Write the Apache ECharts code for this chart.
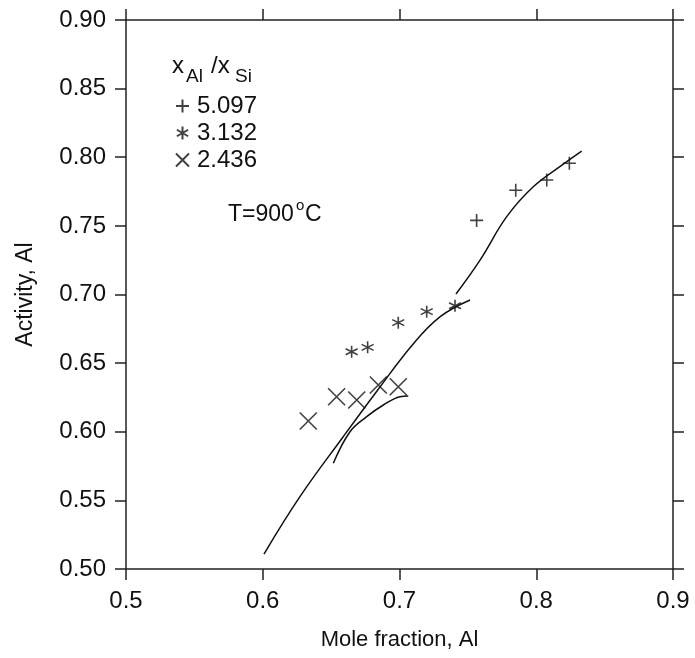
<!DOCTYPE html>
<html>
<head>
<meta charset="utf-8">
<script src="https://cdn.jsdelivr.net/npm/echarts@6/dist/echarts.min.js"></script>
<style>
  html, body { margin: 0; padding: 0; background: #fff; }
  #chart { width: 695px; height: 658px; }
</style>
</head>
<body>
<div id="chart"></div>
<script>
// measured points, x_Al/x_Si ratio groups
var ratioNames = ['5.097', '3.132', '2.436'];
var plusX = [0.7564, 0.785, 0.8077, 0.8242];
var plusY = [0.754, 0.776, 0.7834, 0.7956];
var starX = [0.665, 0.6767, 0.6991, 0.7199, 0.7406];
var starY = [0.6583, 0.6615, 0.6795, 0.6875, 0.6918];
var crossX = [0.6333, 0.654, 0.6687, 0.6845, 0.6991];
var crossY = [0.6078, 0.6255, 0.6231, 0.6341, 0.6328];

// calculated curves
var curveAX = [0.6009, 0.6272, 0.6587, 0.6845, 0.71, 0.73, 0.7516];
var curveAY = [0.5109, 0.5527, 0.5962, 0.631, 0.664, 0.684, 0.696];
var curveBX = [0.6516, 0.6638, 0.676, 0.6882, 0.7004, 0.7064];
var curveBY = [0.577, 0.600, 0.611, 0.6195, 0.6255, 0.626];
var curveCX = [0.7413, 0.7589, 0.7784, 0.7978, 0.8198, 0.8332];
var curveCY = [0.7004, 0.7251, 0.7567, 0.7785, 0.795, 0.8045];

function zip(xs, ys) {
  return xs.map(function (x, i) { return [x, ys[i]]; });
}

var ink = '#111';
var font = 'Liberation Sans, Arial, Helvetica, sans-serif';

var plusPath = 'path://M0,-10L0,10M-10,0L10,0';
var starPath = 'path://M0,-10L0,10M-8.66,-5L8.66,5M-8.66,5L8.66,-5';
var crossPath = 'path://M-10,-10L10,10M-10,10L10,-10';

function pointSeries(name, xs, ys, symbol, size) {
  return {
    name: name,
    type: 'scatter',
    data: zip(xs, ys),
    symbol: symbol,
    symbolSize: size,
    itemStyle: { color: 'transparent', borderColor: ink, borderWidth: 1.6 },
    emphasis: { disabled: true },
    z: 5
  };
}

function curveSeries(xs, ys) {
  return {
    type: 'line',
    data: zip(xs, ys),
    smooth: 0.4,
    showSymbol: false,
    lineStyle: { color: ink, width: 1.5 },
    emphasis: { disabled: true },
    z: 4
  };
}

var axisLine = { show: true, lineStyle: { color: '#222', width: 1.5 } };
var axisTick = { show: true, inside: false, length: 11, lineStyle: { color: '#222', width: 1.5 } };

var chart = echarts.init(document.getElementById('chart'));
chart.setOption({
  backgroundColor: '#fff',
  animation: false,
  grid: { left: 126, right: 22, top: 20, bottom: 89 },
  legend: {
    orient: 'vertical',
    left: 170,
    top: 89,
    itemGap: 3,
    itemWidth: 13,
    itemHeight: 13,
    data: ratioNames,
    textStyle: { fontFamily: font, fontSize: 24, color: ink, padding: [0, 0, 0, 3] },
    selectedMode: false
  },
  xAxis: [
    {
      type: 'value', min: 0.5, max: 0.9, interval: 0.1,
      axisLine: axisLine, axisTick: axisTick, splitLine: { show: false },
      axisLabel: { margin: 20, fontFamily: font, fontSize: 24, color: ink,
        formatter: function (v) { return v.toFixed(1); } },
      name: 'Mole fraction, Al', nameLocation: 'middle', nameGap: 60,
      nameTextStyle: { fontFamily: font, fontSize: 22, color: ink }
    },
    {
      type: 'value', position: 'top', min: 0.5, max: 0.9, interval: 0.1,
      axisLine: axisLine, axisTick: axisTick, splitLine: { show: false },
      axisLabel: { show: false }
    }
  ],
  yAxis: [
    {
      type: 'value', min: 0.5, max: 0.9, interval: 0.05,
      axisLine: axisLine, axisTick: axisTick, splitLine: { show: false },
      axisLabel: { margin: 20, fontFamily: font, fontSize: 24, color: ink,
        formatter: function (v) { return v.toFixed(2); } },
      name: 'Activity, Al', nameLocation: 'middle', nameGap: 89,
      nameTextStyle: { fontFamily: font, fontSize: 23, color: ink }
    },
    {
      type: 'value', position: 'right', min: 0.5, max: 0.9, interval: 0.05,
      axisLine: axisLine, axisTick: axisTick, splitLine: { show: false },
      axisLabel: { show: false }
    }
  ],
  graphic: [
    { type: 'text', left: 172, top: 54, style: { text: 'x', font: '24px ' + font, fill: ink } },
    { type: 'text', left: 186, top: 67, style: { text: 'Al', font: '19px ' + font, fill: ink } },
    { type: 'text', left: 211, top: 54, style: { text: '/x', font: '24px ' + font, fill: ink } },
    { type: 'text', left: 235, top: 67, style: { text: 'Si', font: '19px ' + font, fill: ink } },
    { type: 'text', left: 228, top: 203, style: { text: 'T=900', font: '23px ' + font, fill: ink } },
    { type: 'text', left: 296, top: 198, style: { text: 'o', font: '15px ' + font, fill: ink } },
    { type: 'text', left: 305, top: 203, style: { text: 'C', font: '23px ' + font, fill: ink } }
  ],
  series: [
    pointSeries(ratioNames[0], plusX, plusY, plusPath, 13),
    pointSeries(ratioNames[1], starX, starY, starPath, 12),
    pointSeries(ratioNames[2], crossX, crossY, crossPath, 17),
    curveSeries(curveAX, curveAY),
    curveSeries(curveBX, curveBY),
    curveSeries(curveCX, curveCY)
  ]
});
</script>
</body>
</html>
